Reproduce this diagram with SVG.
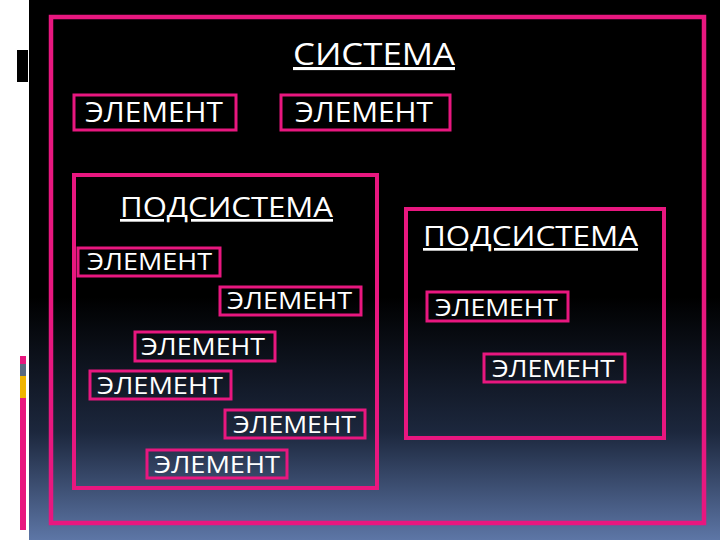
<svg xmlns="http://www.w3.org/2000/svg" width="720" height="540" viewBox="0 0 720 540">
<defs>
<linearGradient id="bg" x1="0" y1="0" x2="0" y2="1">
<stop offset="0" stop-color="#000000"/>
<stop offset="0.55" stop-color="#000000"/>
<stop offset="0.8" stop-color="#1c273d"/>
<stop offset="1" stop-color="#5d76a6"/>
</linearGradient>
<style>
.frame{fill:none;stroke:#e8177f;stroke-width:4.5}
.sub{fill:none;stroke:#e8177f;stroke-width:4}
.el{fill:none;stroke:#e8177f;stroke-width:3}
.t{font-family:"Open Sans","Noto Sans","DejaVu Sans",sans-serif;fill:#ffffff;font-weight:500}
.h{text-decoration:underline;font-weight:500}
</style>
</defs>
<rect x="0" y="0" width="720" height="540" fill="url(#bg)"/>
<rect x="0" y="0" width="29" height="540" fill="#ffffff"/>
<rect x="17" y="50" width="11" height="32" fill="#000000"/>
<rect x="20" y="356" width="6" height="8" fill="#e8177f"/>
<rect x="20" y="364" width="6" height="12" fill="#5a6a80"/>
<rect x="20" y="376" width="6" height="22" fill="#f0b400"/>
<rect x="20" y="398" width="6" height="132" fill="#e8177f"/>

<g id="system">
<rect class="frame" x="51" y="17" width="653" height="506"/>
<text class="t h" x="293" y="65" font-size="31" textLength="162" lengthAdjust="spacingAndGlyphs">СИСТЕМА</text>
</g>
<g id="el1">
<rect class="el" x="74" y="95" width="162" height="35"/>
<text class="t" x="85" y="122" font-size="28" textLength="138" lengthAdjust="spacingAndGlyphs">ЭЛЕМЕНТ</text>
</g>
<g id="el2">
<rect class="el" x="281" y="95" width="169" height="35"/>
<text class="t" x="295" y="122" font-size="28" textLength="138" lengthAdjust="spacingAndGlyphs">ЭЛЕМЕНТ</text>
</g>

<g id="subsystem1">
<rect class="sub" x="74" y="175" width="303" height="313"/>
<text class="t h" x="120" y="217" font-size="27" textLength="213" lengthAdjust="spacingAndGlyphs">ПОДСИСТЕМА</text>
</g>
<g id="el3">
<rect class="el" x="78" y="248" width="142" height="28"/>
<text class="t" x="87" y="270" font-size="24" textLength="125" lengthAdjust="spacingAndGlyphs">ЭЛЕМЕНТ</text>
</g>
<g id="el4">
<rect class="el" x="220" y="287" width="141" height="28"/>
<text class="t" x="227" y="309" font-size="24" textLength="125" lengthAdjust="spacingAndGlyphs">ЭЛЕМЕНТ</text>
</g>
<g id="el5">
<rect class="el" x="135" y="332" width="140" height="29"/>
<text class="t" x="141" y="355" font-size="24" textLength="124" lengthAdjust="spacingAndGlyphs">ЭЛЕМЕНТ</text>
</g>
<g id="el6">
<rect class="el" x="90" y="371" width="141" height="28"/>
<text class="t" x="97" y="394" font-size="24" textLength="126" lengthAdjust="spacingAndGlyphs">ЭЛЕМЕНТ</text>
</g>
<g id="el7">
<rect class="el" x="225" y="410" width="140" height="28"/>
<text class="t" x="233" y="433" font-size="24" textLength="123" lengthAdjust="spacingAndGlyphs">ЭЛЕМЕНТ</text>
</g>
<g id="el8">
<rect class="el" x="147" y="450" width="140" height="28"/>
<text class="t" x="154" y="473" font-size="24" textLength="126" lengthAdjust="spacingAndGlyphs">ЭЛЕМЕНТ</text>
</g>

<g id="subsystem2">
<rect class="sub" x="406" y="209" width="258" height="229"/>
<text class="t h" x="423" y="246" font-size="27" textLength="215" lengthAdjust="spacingAndGlyphs">ПОДСИСТЕМА</text>
</g>
<g id="el9">
<rect class="el" x="427" y="292" width="141" height="29"/>
<text class="t" x="435" y="316" font-size="24" textLength="123" lengthAdjust="spacingAndGlyphs">ЭЛЕМЕНТ</text>
</g>
<g id="el10">
<rect class="el" x="484" y="354" width="141" height="28"/>
<text class="t" x="492" y="377" font-size="24" textLength="123" lengthAdjust="spacingAndGlyphs">ЭЛЕМЕНТ</text>
</g>
<g id="connectors"></g>
</svg>
